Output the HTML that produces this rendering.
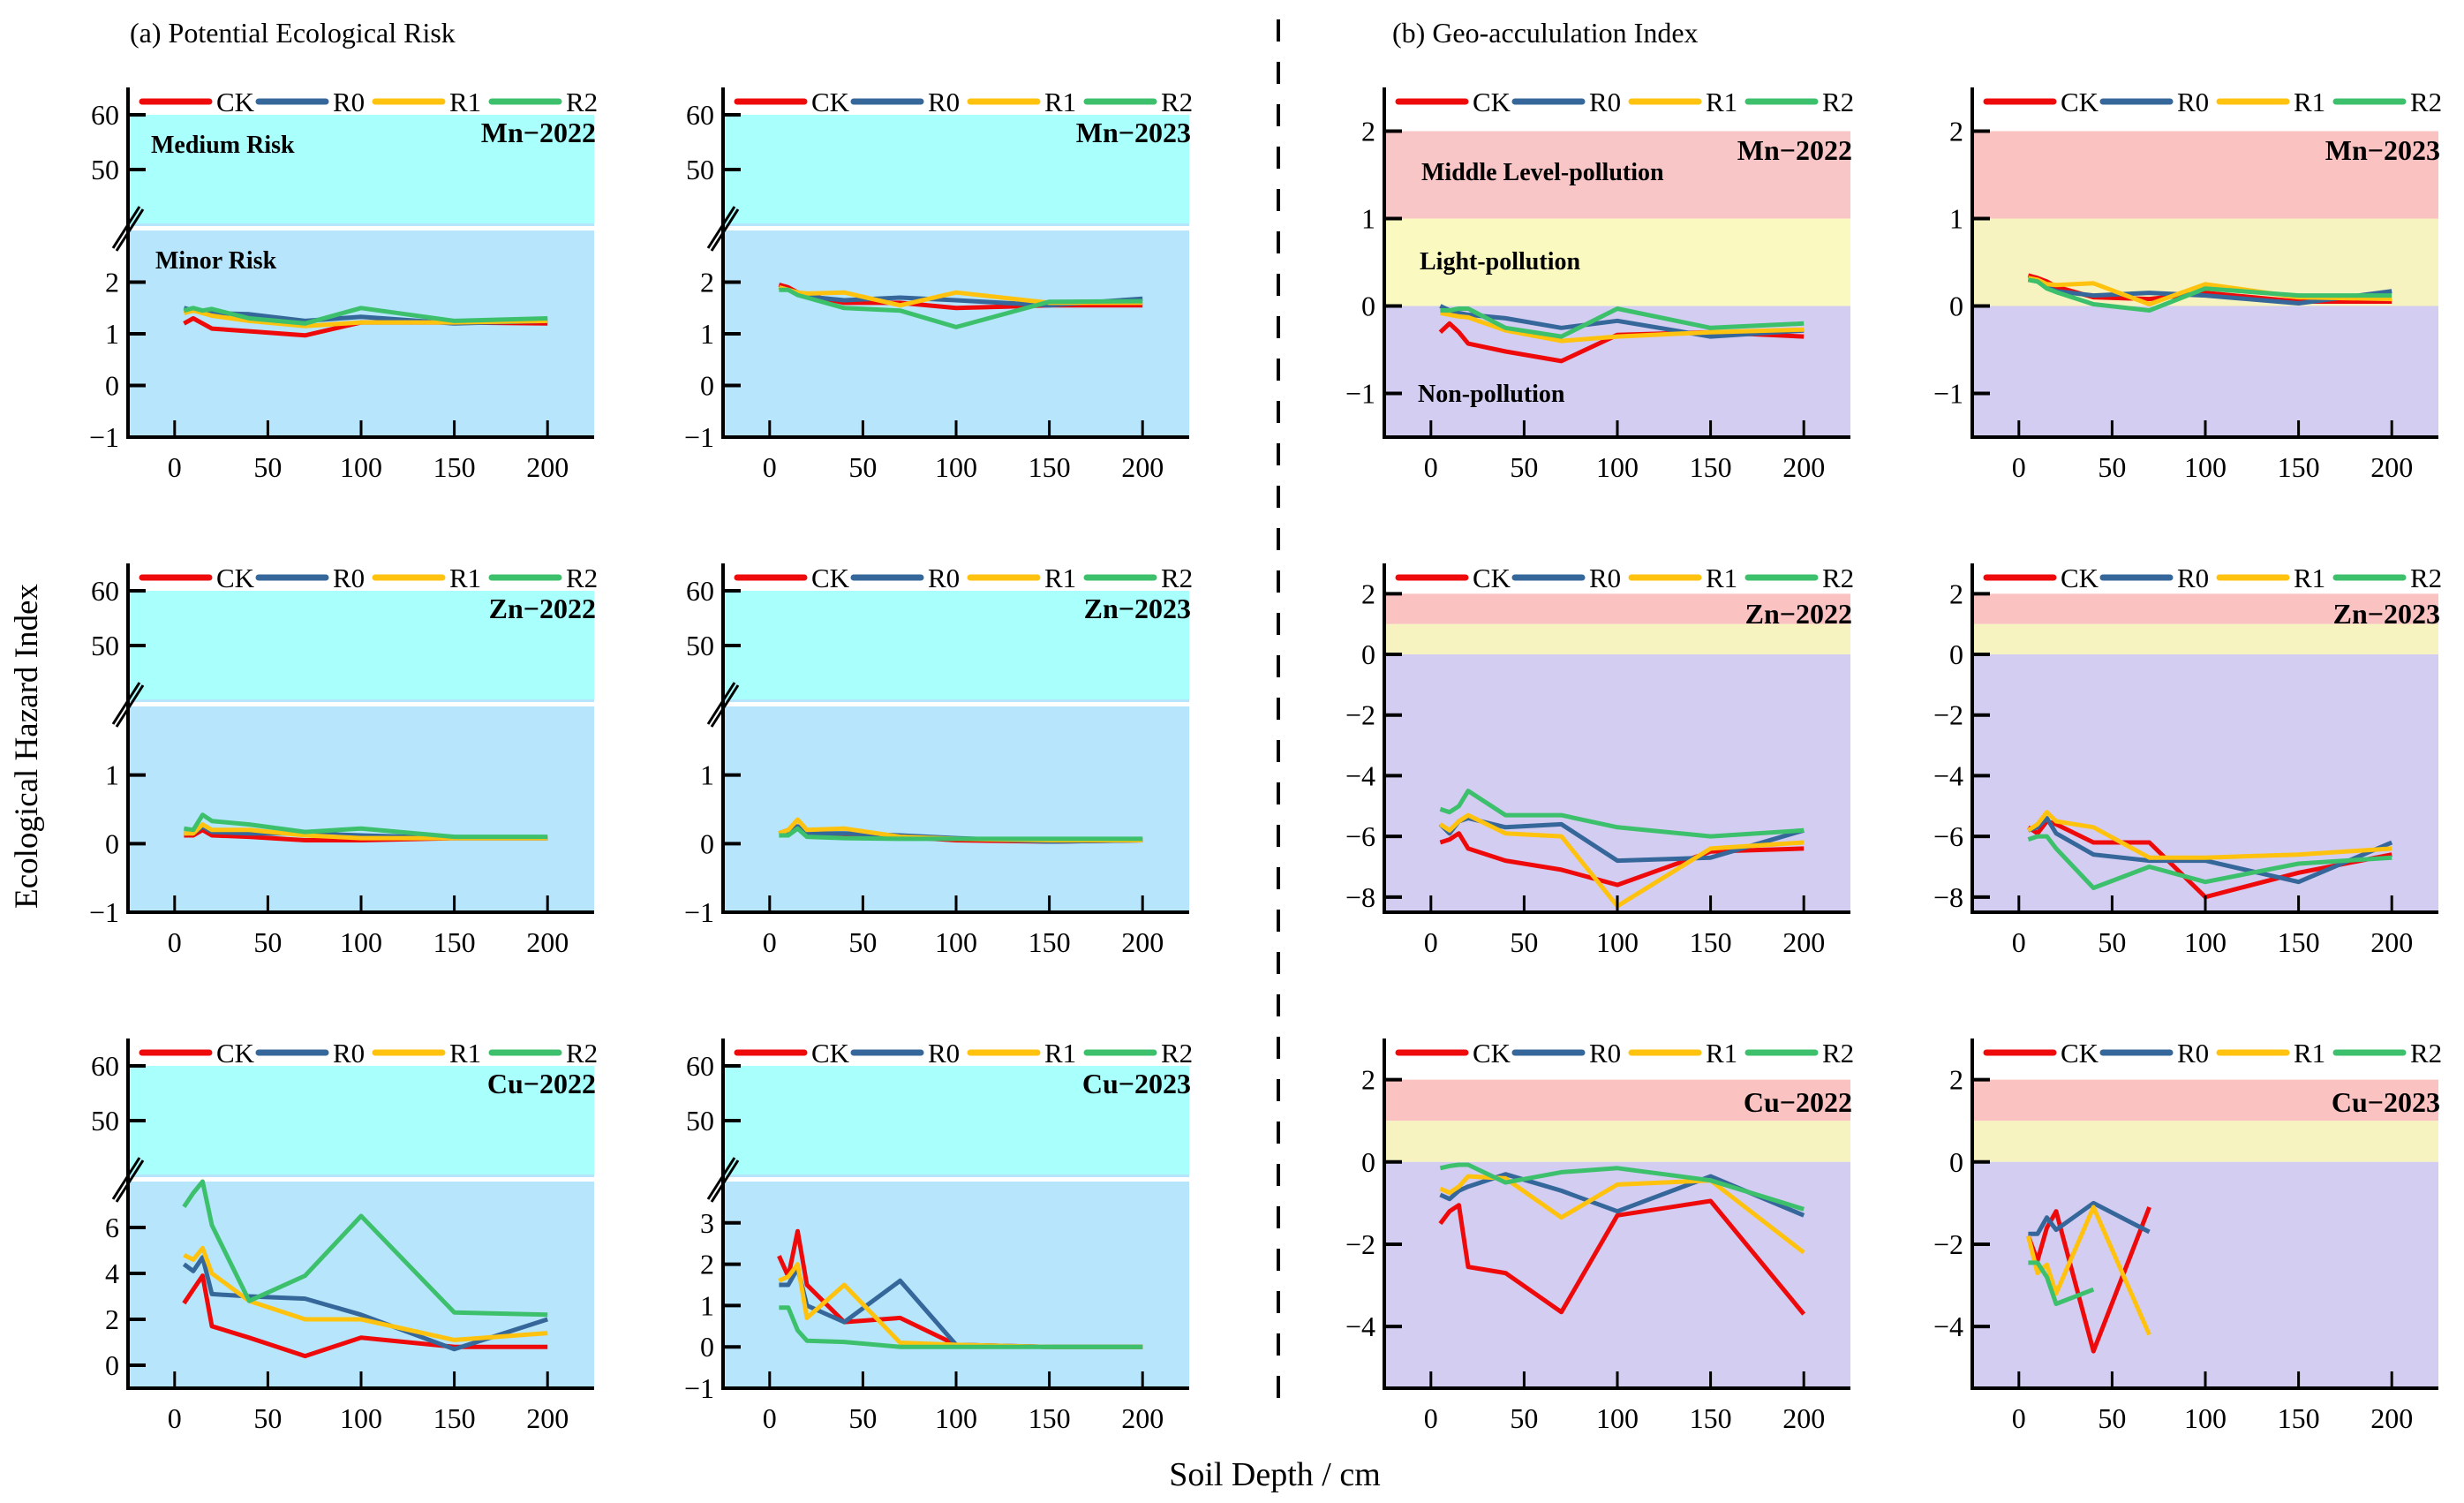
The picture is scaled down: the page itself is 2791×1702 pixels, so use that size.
<!DOCTYPE html>
<html><head><meta charset="utf-8"><style>
html,body{margin:0;padding:0;background:#fff;}
svg{display:block;font-family:"Liberation Serif",serif;}
text{font-family:"Liberation Serif",serif;}
</style></head><body>
<svg id="fig" width="2791" height="1702" viewBox="0 0 2791 1702" xmlns="http://www.w3.org/2000/svg" font-family="Liberation Serif, serif">
<text x="147" y="48" font-size="32" font-family="Liberation Serif, serif">(a) Potential Ecological Risk</text>
<text x="1577" y="48" font-size="32" font-family="Liberation Serif, serif">(b) Geo-accululation Index</text>
<text transform="translate(42,845) rotate(-90)" text-anchor="middle" font-size="37" font-family="Liberation Serif, serif">Ecological Hazard Index</text>
<text x="1444" y="1682" text-anchor="middle" font-size="38" font-family="Liberation Serif, serif">Soil Depth / cm</text>
<line x1="1448" y1="22" x2="1448" y2="1600" stroke="#000" stroke-width="4" stroke-dasharray="25,23"/>
</svg>
<script>
const depths=[5,10,15,20,40,70,100,150,200];
const seriesNames=["CK","R0","R1","R2"];
const colors=["#ee0a0a","#35679a","#ffc20e","#3cc06c"];
// Potential Ecological Risk (panel a)
const mn22CK=[1.2,1.3,1.2,1.1,1.05,0.97,1.22,1.22,1.2];
const mn22R0=[1.5,1.45,1.45,1.4,1.38,1.25,1.33,1.2,1.25];
const mn22R1=[1.4,1.45,1.4,1.35,1.25,1.15,1.22,1.22,1.25];
const mn22R2=[1.45,1.5,1.45,1.48,1.3,1.2,1.5,1.25,1.3];
const mn23CK=[1.95,1.9,1.8,1.75,1.6,1.6,1.5,1.55,1.55];
const mn23R0=[1.9,1.85,1.8,1.72,1.65,1.7,1.65,1.55,1.68];
const mn23R1=[1.9,1.85,1.8,1.78,1.8,1.55,1.8,1.6,1.6];
const mn23R2=[1.85,1.85,1.75,1.7,1.5,1.45,1.13,1.62,1.63];
const zn22CK=[0.12,0.12,0.2,0.12,0.1,0.05,0.05,0.08,0.08];
const zn22R0=[0.15,0.15,0.25,0.17,0.15,0.15,0.12,0.08,0.08];
const zn22R1=[0.15,0.15,0.28,0.2,0.2,0.12,0.08,0.08,0.08];
const zn22R2=[0.22,0.2,0.42,0.33,0.28,0.17,0.22,0.1,0.1];
const zn23CK=[0.15,0.2,0.25,0.15,0.12,0.1,0.05,0.03,0.05];
const zn23R0=[0.15,0.18,0.25,0.15,0.15,0.12,0.08,0.03,0.05];
const zn23R1=[0.15,0.2,0.35,0.2,0.22,0.1,0.07,0.05,0.05];
const zn23R2=[0.12,0.12,0.22,0.1,0.08,0.07,0.07,0.07,0.07];
const cu22CK=[2.7,3.3,3.9,1.7,1.2,0.4,1.2,0.8,0.8];
const cu22R0=[4.4,4.1,4.7,3.1,3.0,2.9,2.2,0.7,2.0];
const cu22R1=[4.8,4.6,5.1,4.0,2.8,2.0,2.0,1.1,1.4];
const cu22R2=[6.9,7.5,8.0,6.1,2.8,3.9,6.5,2.3,2.2];
const cu23CK=[2.2,1.7,2.8,1.5,0.6,0.7,0.05,0,0];
const cu23R0=[1.5,1.5,1.9,1.0,0.6,1.6,0.05,0,0];
const cu23R1=[1.6,1.7,2.0,0.7,1.5,0.1,0.05,0,0];
const cu23R2=[0.95,0.95,0.4,0.15,0.12,0.0,0,0,0];
// Geo-accumulation Index (panel b)
const gmn22CK=[-0.3,-0.2,-0.3,-0.43,-0.52,-0.63,-0.33,-0.3,-0.35];
const gmn22R0=[0,-0.05,-0.08,-0.1,-0.14,-0.25,-0.17,-0.35,-0.28];
const gmn22R1=[-0.08,-0.1,-0.12,-0.13,-0.28,-0.4,-0.35,-0.3,-0.27];
const gmn22R2=[-0.05,-0.05,-0.03,-0.03,-0.25,-0.35,-0.03,-0.25,-0.2];
const gmn23CK=[0.35,0.32,0.28,0.22,0.1,0.08,0.15,0.05,0.05];
const gmn23R0=[0.3,0.28,0.22,0.17,0.12,0.15,0.12,0.03,0.17];
const gmn23R1=[0.32,0.3,0.25,0.24,0.26,0.02,0.25,0.1,0.08];
const gmn23R2=[0.3,0.28,0.2,0.16,0.02,-0.05,0.2,0.12,0.12];
const gzn22CK=[-6.2,-6.1,-5.9,-6.4,-6.8,-7.1,-7.6,-6.5,-6.4];
const gzn22R0=[-5.6,-5.9,-5.5,-5.4,-5.7,-5.6,-6.8,-6.7,-5.8];
const gzn22R1=[-5.6,-5.8,-5.5,-5.3,-5.9,-6.0,-8.3,-6.4,-6.2];
const gzn22R2=[-5.1,-5.2,-5.0,-4.5,-5.3,-5.3,-5.7,-6.0,-5.8];
const gzn23CK=[-5.7,-5.9,-5.5,-5.6,-6.2,-6.2,-8.0,-7.2,-6.6];
const gzn23R0=[-5.8,-5.7,-5.4,-5.9,-6.6,-6.8,-6.8,-7.5,-6.2];
const gzn23R1=[-5.8,-5.6,-5.2,-5.5,-5.7,-6.7,-6.7,-6.6,-6.4];
const gzn23R2=[-6.1,-6.0,-6.0,-6.4,-7.7,-7.0,-7.5,-6.9,-6.7];
const gcu22CK=[-1.5,-1.2,-1.05,-2.55,-2.7,-3.65,-1.3,-0.95,-3.7];
const gcu22R0=[-0.8,-0.9,-0.7,-0.6,-0.3,-0.7,-1.2,-0.35,-1.3];
const gcu22R1=[-0.65,-0.75,-0.6,-0.35,-0.4,-1.35,-0.55,-0.45,-2.2];
const gcu22R2=[-0.15,-0.1,-0.07,-0.07,-0.5,-0.25,-0.15,-0.45,-1.15];
const gcu23CK=[-1.8,-2.4,-1.6,-1.2,-4.6,-1.1,null,null,null];
const gcu23R0=[-1.75,-1.75,-1.35,-1.65,-1.0,-1.7,null,null,null];
const gcu23R1=[-1.8,-2.7,-2.5,-3.2,-1.1,-4.2,null,null,null];
const gcu23R2=[-2.45,-2.45,-2.8,-3.45,-3.1,null,null,null,null];
const xTicks=[0,50,100,150,200];

const NS="http://www.w3.org/2000/svg";
const FF="Liberation Serif, serif";
const svg=document.getElementById('fig');
function mk(tag,attrs,parent){const e=document.createElementNS(NS,tag);for(const k in attrs)e.setAttribute(k,attrs[k]);(parent||svg).appendChild(e);return e;}
const colL=[145,819,1568,2234], W=528;
const rowT=[99,638,1176], rowB=[495,1033,1572];

function xmap(L){return v=>L+(v+25)/250*W;}

function drawLegendAndAxes(g,L,T,B,xm){
  for(let i=0;i<4;i++){
    const lx=L+16+i*132;
    const ln=mk('line',{x1:lx,y1:T+16,x2:lx+76,y2:T+16,stroke:colors[i],'stroke-width':7,'stroke-linecap':'round'},g);
    
    
    const t=mk('text',{x:lx+84,y:T+27,'font-size':31,'font-family':FF},g);
    t.textContent=seriesNames[i];
    
    
  }
  xTicks.forEach(v=>{
    const x=xm(v);
    const tk=mk('line',{x1:x,y1:B,x2:x,y2:B-19,stroke:'#000','stroke-width':3},g);
    
    
    const t=mk('text',{x:x,y:B+45,'text-anchor':'middle','font-size':32,'font-family':FF},g);
    t.textContent=v;
    
    
  });
  const sp=mk('path',{d:`M${L} ${T} L${L} ${B} L${L+W} ${B}`,fill:'none',stroke:'#000','stroke-width':4},g);
  
  
}
function ytick(g,L,y,label){
  const tk=mk('line',{x1:L,y1:y,x2:L+20,y2:y,stroke:'#000','stroke-width':4},g);
  
  
  const t=mk('text',{x:L-10,y:y+11,'text-anchor':'end','font-size':32,'font-family':FF},g);
  t.textContent=label<0?'\u2212'+Math.abs(label):label;
  
  
}
function drawSeries(g,xm,ym,arrs){
  arrs.forEach((arr,i)=>{
    let d='';let started=false;
    arr.forEach((v,j)=>{ if(v===null||v===undefined){return;} d+=(started?'L':'M')+xm(depths[j]).toFixed(1)+' '+ym(v).toFixed(1)+' '; started=true;});
    const p=mk('path',{d:d,fill:'none',stroke:colors[i],'stroke-width':5,'stroke-linejoin':'round'},g);
    
    
  });
}
function panelLabel(g,R,y,txt){
  const t=mk('text',{x:R+2,y:y,'text-anchor':'end','font-size':32,'font-weight':'bold','font-family':FF},g);
  t.textContent=txt;
  
  
}
function regionText(g,x,y,txt){
  const t=mk('text',{x:x,y:y,'font-size':28,'font-weight':'bold','font-family':FF},g);
  t.textContent=txt;
  
  
}

const aPanels=[
 {c:0,r:0,name:'Mn\u22122022',lo:-1,hi:3,ticks:[-1,0,1,2],arrs:[mn22CK,mn22R0,mn22R1,mn22R2],region:true},
 {c:1,r:0,name:'Mn\u22122023',lo:-1,hi:3,ticks:[-1,0,1,2],arrs:[mn23CK,mn23R0,mn23R1,mn23R2]},
 {c:0,r:1,name:'Zn\u22122022',lo:-1,hi:2,ticks:[-1,0,1],arrs:[zn22CK,zn22R0,zn22R1,zn22R2]},
 {c:1,r:1,name:'Zn\u22122023',lo:-1,hi:2,ticks:[-1,0,1],arrs:[zn23CK,zn23R0,zn23R1,zn23R2]},
 {c:0,r:2,name:'Cu\u22122022',lo:-1,hi:8,ticks:[0,2,4,6],arrs:[cu22CK,cu22R0,cu22R1,cu22R2]},
 {c:1,r:2,name:'Cu\u22122023',lo:-1,hi:4,ticks:[-1,0,1,2,3],arrs:[cu23CK,cu23R0,cu23R1,cu23R2]},
];
aPanels.forEach(p=>{
  const L=colL[p.c],T=rowT[p.r],B=rowB[p.r],R=L+W;
  const g=mk('g',{});
  
  
  const yu=v=>T+(65-v)*6.2;
  const lowTop=T+162;
  const ym=v=>B-(v-p.lo)/(p.hi-p.lo)*(B-lowTop);
  const bg1=mk('rect',{x:L,y:yu(60),width:W,height:yu(40)-yu(60)-1,fill:'#a8fffc'},g);
  
  mk('rect',{x:L,y:yu(40)-1,width:W,height:3,fill:'#b6e5fc'},g);
  const bg2=mk('rect',{x:L,y:lowTop,width:W,height:B-lowTop,fill:'#b6e5fc'},g);
  
  if(p.region){regionText(g,L+26,T+74,'Medium Risk');regionText(g,L+31,T+205,'Minor Risk');}
  drawSeries(g,xmap(L),ym,p.arrs);
  [60,50].forEach(v=>ytick(g,L,yu(v),v));
  p.ticks.forEach(v=>ytick(g,L,ym(v),v));
  drawLegendAndAxes(g,L,T,B,xmap(L));
  const bm=mk('path',{d:`M${L-17} ${T+182} L${L+13} ${T+135} M${L-13} ${T+185} L${L+17} ${T+138}`,stroke:'#000','stroke-width':3,fill:'none'},g);
  
  panelLabel(g,R,T+62,p.name);
});

const bPanels=[
 {c:2,r:0,name:'Mn\u22122022',lo:-1.5,hi:2.5,ticks:[-1,0,1,2],arrs:[gmn22CK,gmn22R0,gmn22R1,gmn22R2],region:true,ly:82,yel:'#fafac0',pink:'#f8c6c6'},
 {c:3,r:0,name:'Mn\u22122023',lo:-1.5,hi:2.5,ticks:[-1,0,1,2],arrs:[gmn23CK,gmn23R0,gmn23R1,gmn23R2],ly:82},
 {c:2,r:1,name:'Zn\u22122022',lo:-8.5,hi:3,ticks:[-8,-6,-4,-2,0,2],arrs:[gzn22CK,gzn22R0,gzn22R1,gzn22R2],ly:68},
 {c:3,r:1,name:'Zn\u22122023',lo:-8.5,hi:3,ticks:[-8,-6,-4,-2,0,2],arrs:[gzn23CK,gzn23R0,gzn23R1,gzn23R2],ly:68},
 {c:2,r:2,name:'Cu\u22122022',lo:-5.5,hi:3,ticks:[-4,-2,0,2],arrs:[gcu22CK,gcu22R0,gcu22R1,gcu22R2],ly:83},
 {c:3,r:2,name:'Cu\u22122023',lo:-5.5,hi:3,ticks:[-4,-2,0,2],arrs:[gcu23CK,gcu23R0,gcu23R1,gcu23R2],ly:83},
];
bPanels.forEach(p=>{
  const L=colL[p.c],T=rowT[p.r],B=rowB[p.r],R=L+W;
  const g=mk('g',{});
  
  
  const ym=v=>B-(v-p.lo)/(p.hi-p.lo)*(B-T);
  const pk=mk('rect',{x:L,y:ym(2),width:W,height:ym(1)-ym(2),fill:p.pink||'#fbc2c2'},g);
  
  const yl=mk('rect',{x:L,y:ym(1),width:W,height:ym(0)-ym(1),fill:p.yel||'#f6f3c0'},g);
  
  const lv=mk('rect',{x:L,y:ym(0),width:W,height:B-ym(0),fill:'#d3cdf1'},g);
  
  if(p.region){regionText(g,L+42,T+105,'Middle Level-pollution');regionText(g,L+40,T+206,'Light-pollution');regionText(g,L+38,T+356,'Non-pollution');}
  drawSeries(g,xmap(L),ym,p.arrs);
  p.ticks.forEach(v=>ytick(g,L,ym(v),v));
  drawLegendAndAxes(g,L,T,B,xmap(L));
  panelLabel(g,R,T+p.ly,p.name);
});
</script>
</body></html>
